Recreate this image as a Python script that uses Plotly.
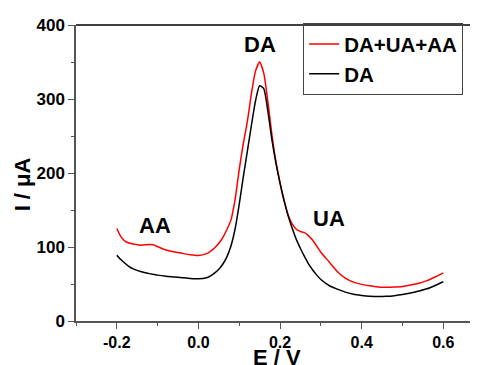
import plotly.graph_objects as go

# Potential (V)
E = [-0.20, -0.19, -0.18, -0.17, -0.16, -0.14, -0.12, -0.11, -0.10, -0.08,
     -0.06, -0.04, -0.02, 0.00, 0.02, 0.03, 0.04, 0.05, 0.06, 0.07,
     0.08, 0.09, 0.10, 0.11, 0.12, 0.13, 0.14, 0.15, 0.16, 0.17,
     0.18, 0.19, 0.20, 0.21, 0.22, 0.23, 0.24, 0.25, 0.26, 0.27,
     0.28, 0.29, 0.30, 0.32, 0.34, 0.36, 0.38, 0.40, 0.42, 0.44,
     0.46, 0.48, 0.50, 0.52, 0.54, 0.56, 0.58, 0.60]

# Current (uA) - mixture DA+UA+AA
I_mix = [125, 114, 108, 105.5, 104, 102.5, 103.5, 103, 100.5, 96,
         93.5, 91.5, 89.5, 88.5, 91, 94.5, 99, 105, 113, 124,
         137, 165, 205, 240, 270, 308, 338, 350, 335, 297,
         252, 215, 187, 163, 143, 131, 124, 121, 119.5, 115,
         109, 101, 93, 80, 67, 58, 52.5, 49.5, 47.5, 46,
         45.5, 45.8, 46.5, 48.5, 51, 54.5, 59.5, 65]

# Current (uA) - DA only
I_da = [89, 83, 78, 73.5, 70.5, 66.5, 64, 63, 62, 60.5,
        59.5, 58.5, 57.5, 57, 58.5, 61, 65, 70, 77, 87,
        102, 125, 158, 195, 230, 265, 298, 318, 314, 284,
        245, 213, 186, 162, 142, 125, 110, 98, 87, 77,
        69, 62, 56, 48, 43, 39, 36, 34.5, 33.5, 33,
        33.3, 34.2, 35.7, 37.8, 40.5, 43.5, 48, 53]

series_names = ["DA+UA+AA", "DA"]
peak_labels = ["AA", "DA", "UA"]
peak_x = [-0.107, 0.151, 0.319]
peak_y = [129, 374, 138]

x_ticks = [-0.2, 0.0, 0.2, 0.4, 0.6]
x_tick_labels = ["-0.2", "0.0", "0.2", "0.4", "0.6"]
y_ticks = [0, 100, 200, 300, 400]
y_tick_labels = ["0", "100", "200", "300", "400"]

FONT = "Liberation Sans, Arial, sans-serif"

fig = go.Figure()
fig.add_trace(go.Scatter(x=E, y=I_mix, mode="lines", name=series_names[0],
                         line=dict(color="#ff0000", width=1.5, shape="spline", smoothing=0.6)))
fig.add_trace(go.Scatter(x=E, y=I_da, mode="lines", name=series_names[1],
                         line=dict(color="#000000", width=1.5, shape="spline", smoothing=0.6)))

for t, x, y in zip(peak_labels, peak_x, peak_y):
    fig.add_annotation(x=x, y=y, text="<b>%s</b>" % t, showarrow=False,
                       font=dict(family=FONT, size=22, color="black"),
                       xanchor="center", yanchor="middle")

# axis titles
fig.add_annotation(xref="paper", yref="paper", x=0.5, y=-0.073,
                   xanchor="center", yanchor="top",
                   text="<b>E / V</b>", showarrow=False,
                   font=dict(family=FONT, size=22, color="black"))
fig.add_annotation(xref="paper", yref="paper", x=-0.133, y=0.46,
                   xanchor="center", yanchor="middle",
                   text="<b>I / μA</b>", showarrow=False, textangle=-90,
                   font=dict(family=FONT, size=22, color="black"))

# top frame line
fig.add_shape(type="line", xref="paper", yref="paper", x0=0, x1=1, y0=1, y1=1,
              line=dict(color="black", width=1.5))

fig.update_layout(
    width=478, height=365,
    margin=dict(l=68, r=8, t=15, b=52),
    paper_bgcolor="white", plot_bgcolor="white",
    font=dict(family=FONT, size=16, color="black"),
    showlegend=True,
    legend=dict(x=0.565, y=1.006, xanchor="left", yanchor="top",
                bordercolor="#444", borderwidth=1, bgcolor="rgba(255,255,255,0)",
                font=dict(family=FONT, size=20.5, color="black", weight="bold"),
                tracegroupgap=0, itemwidth=30),
    xaxis=dict(range=[-0.3, 0.685], tickvals=x_ticks, ticktext=x_tick_labels,
               ticks="outside", ticklen=6, tickwidth=1.2, tickcolor="#555",
               showline=True, linecolor="#555", linewidth=1.5,
               showgrid=False, zeroline=False,
               tickfont=dict(family=FONT, size=16, weight="bold"),
               minor=dict(dtick=0.1, tick0=-0.2, ticks="outside", ticklen=3, tickcolor="#555")),
    yaxis=dict(range=[0, 400], tickvals=y_ticks, ticktext=y_tick_labels,
               ticks="outside", ticklen=6, tickwidth=1.2, tickcolor="#555",
               showline=True, linecolor="#555", linewidth=1.5,
               showgrid=False, zeroline=False,
               tickfont=dict(family=FONT, size=17, weight="bold"),
               minor=dict(dtick=50, tick0=0, ticks="outside", ticklen=3, tickcolor="#555")),
)

fig.write_html("out.html")
